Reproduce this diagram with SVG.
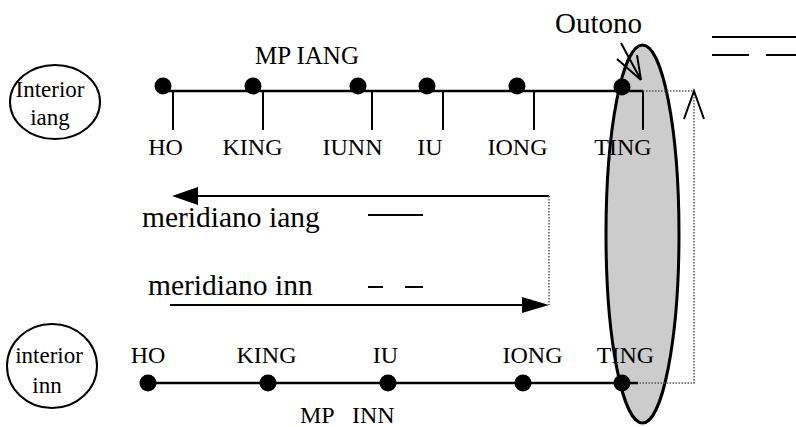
<svg xmlns="http://www.w3.org/2000/svg" width="796" height="427" viewBox="0 0 796 427">
<style>
text{font-family:"Liberation Serif","Times New Roman",serif;fill:#000}
.lbl{font-size:24px;text-anchor:middle}
.big{font-size:29.5px}
.ln{stroke:#000;stroke-width:2.5;fill:none}
.tk{stroke:#000;stroke-width:2;fill:none}
.dot{fill:#000}
.dt{stroke:#555;stroke-width:1.5;stroke-dasharray:1.5 1.5;fill:none}
</style>
<rect width="796" height="427" fill="#fff"/>
<g id="outono">
<ellipse cx="642.5" cy="234" rx="36.5" ry="189" fill="#ccc" stroke="#000" stroke-width="3"/>
</g>
<g id="interior-iang">
<ellipse cx="55" cy="102" rx="45" ry="37" fill="none" stroke="#000" stroke-width="2"/>
<text x="50" y="97" font-size="23" text-anchor="middle">Interior</text>
<text x="50" y="125" font-size="23" text-anchor="middle">iang</text>
</g>
<g id="interior-inn">
<ellipse cx="52" cy="366" rx="45" ry="42" fill="none" stroke="#000" stroke-width="2"/>
<text x="49" y="363" font-size="23" text-anchor="middle">interior</text>
<text x="47" y="393" font-size="23" text-anchor="middle">inn</text>
</g>
<g id="connectors">
<line class="ln" x1="163" y1="91" x2="643" y2="91"/>
<line class="tk" x1="173" y1="91" x2="173" y2="130"/>
<line class="tk" x1="263" y1="91" x2="263" y2="130"/>
<line class="tk" x1="372" y1="91" x2="372" y2="130"/>
<line class="tk" x1="443" y1="91" x2="443" y2="130"/>
<line class="tk" x1="534" y1="91" x2="534" y2="130"/>
<line class="tk" x1="643" y1="91" x2="643" y2="130"/>
<line class="ln" x1="148" y1="383" x2="638" y2="383"/>
<path class="dt" d="M643 91H694V383H638"/>
<path class="tk" d="M684 119L694 91L704 119" stroke-width="1.5"/>
<line class="tk" x1="198" y1="196" x2="549" y2="196"/>
<polygon points="172,196 198,187 198,205" fill="#000"/>
<line class="dt" x1="549" y1="196" x2="549" y2="305" stroke-width="1"/>
<line class="tk" x1="170" y1="305" x2="522" y2="305"/>
<polygon points="549,305 522,297 522,313" fill="#000"/>
<path class="tk" d="M621 43L641 80M617 59L641 80M637 55L641 80" stroke-width="1.5"/>
<line class="tk" x1="368" y1="215" x2="423" y2="215"/>
<path class="tk" d="M368 287H383M405 287H423"/>
<line class="tk" x1="712" y1="37" x2="796" y2="37" stroke-width="1.5"/>
<path class="tk" d="M712 55H749M766 55H796" stroke-width="1.5"/>
</g>
<g id="mp-iang">
<circle class="dot" cx="163" cy="86" r="8.5"/>
<circle class="dot" cx="253" cy="86" r="8.5"/>
<circle class="dot" cx="358" cy="86" r="8.5"/>
<circle class="dot" cx="427" cy="86" r="8.5"/>
<circle class="dot" cx="517" cy="86" r="8.5"/>
<circle class="dot" cx="622" cy="87" r="8.5"/>
<text x="255" y="64" font-size="25">MP IANG</text>
<text class="lbl" x="165.5" y="155">HO</text>
<text class="lbl" x="252.5" y="155">KING</text>
<text class="lbl" x="352.5" y="155">IUNN</text>
<text class="lbl" x="430" y="155">IU</text>
<text class="lbl" x="517.5" y="155">IONG</text>
<text class="lbl" x="623" y="155">TING</text>
</g>
<g id="mp-inn">
<circle class="dot" cx="148" cy="383" r="8.5"/>
<circle class="dot" cx="268" cy="383" r="8.5"/>
<circle class="dot" cx="388" cy="383" r="8.5"/>
<circle class="dot" cx="523" cy="383" r="8.5"/>
<circle class="dot" cx="622" cy="383" r="8.5"/>
<text class="lbl" x="148" y="363">HO</text>
<text class="lbl" x="266.5" y="363">KING</text>
<text class="lbl" x="385.5" y="363">IU</text>
<text class="lbl" x="532.5" y="363">IONG</text>
<text class="lbl" x="625.5" y="363">TING</text>
<text y="423" font-size="24"><tspan x="300">MP</tspan><tspan x="352">INN</tspan></text>
</g>
<g id="labels">
<text x="555" y="33" font-size="29">Outono</text>
<text class="big" x="142" y="227">meridiano iang</text>
<text class="big" x="148" y="295">meridiano inn</text>
</g>
</svg>
